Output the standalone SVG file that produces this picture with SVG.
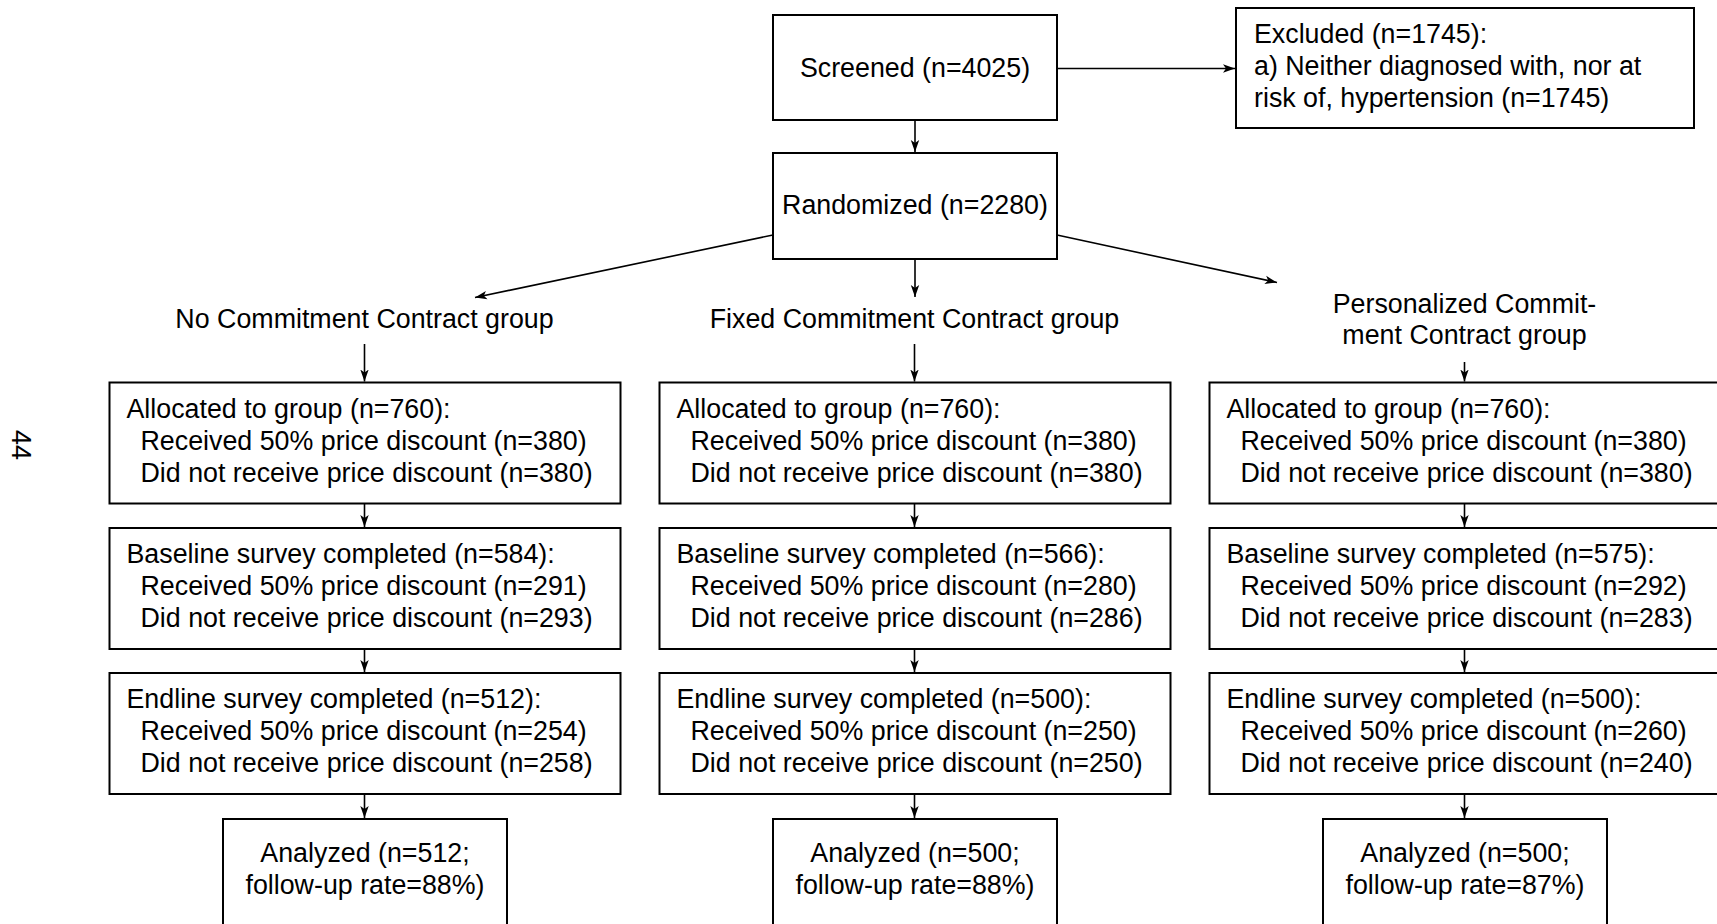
<svg xmlns="http://www.w3.org/2000/svg" width="1717" height="924" viewBox="0 0 1717 924">
<style>
  text { font-family: "Liberation Sans", Arial, Helvetica, sans-serif; font-size: 26.8px; fill: #000; }
  .c { text-anchor: middle; }
  .box { fill: #fff; stroke: #000; stroke-width: 2; }
  .conn line { stroke: #000; stroke-width: 1.6; fill: none; marker-end: url(#ah); }
</style>
<defs>
  <marker id="ah" markerWidth="14" markerHeight="10" refX="12" refY="5" orient="auto" markerUnits="userSpaceOnUse" viewBox="0 0 14 10">
    <path d="M0,0.8 L12,5 L0,9.2 L3,5 Z" fill="#000"/>
  </marker>
</defs>
<rect width="1717" height="924" fill="#fff"/>

<text transform="translate(12,430) rotate(90)">44</text>

<g id="screened">
  <rect class="box" x="773" y="15" width="284" height="105"/>
  <text class="c" x="915" y="77">Screened (n=4025)</text>
</g>
<g id="excluded">
  <rect class="box" x="1236" y="8" width="458" height="120"/>
  <text x="1254" y="43">Excluded (n=1745):</text>
  <text x="1254" y="75">a) Neither diagnosed with, nor at</text>
  <text x="1254" y="106.6">risk of, hypertension (n=1745)</text>
</g>
<g id="randomized">
  <rect class="box" x="773" y="153" width="284" height="106"/>
  <text class="c" x="915" y="214">Randomized (n=2280)</text>
</g>

<g id="label-no">
  <text class="c" x="364.5" y="328">No Commitment Contract group</text>
</g>
<g id="label-fixed">
  <text class="c" x="914.5" y="328">Fixed Commitment Contract group</text>
</g>
<g id="label-personalized">
  <text class="c" x="1464.5" y="313">Personalized Commit-</text>
  <text class="c" x="1464.5" y="344">ment Contract group</text>
</g>

<!-- Left column -->
<g id="no-allocated">
  <rect class="box" x="109.5" y="382.5" width="511" height="121"/>
  <text x="126.5" y="417.5">Allocated to group (n=760):</text>
  <text x="140.5" y="449.5">Received 50% price discount (n=380)</text>
  <text x="140.5" y="481.5">Did not receive price discount (n=380)</text>
</g>
<g id="no-baseline">
  <rect class="box" x="109.5" y="528" width="511" height="121"/>
  <text x="126.5" y="563">Baseline survey completed (n=584):</text>
  <text x="140.5" y="595">Received 50% price discount (n=291)</text>
  <text x="140.5" y="627">Did not receive price discount (n=293)</text>
</g>
<g id="no-endline">
  <rect class="box" x="109.5" y="673" width="511" height="121"/>
  <text x="126.5" y="708.3">Endline survey completed (n=512):</text>
  <text x="140.5" y="740.3">Received 50% price discount (n=254)</text>
  <text x="140.5" y="772.3">Did not receive price discount (n=258)</text>
</g>
<g id="no-analyzed">
  <rect class="box" x="223" y="819" width="284" height="110"/>
  <text class="c" x="365" y="862.3">Analyzed (n=512;</text>
  <text class="c" x="365" y="894">follow-up rate=88%)</text>
</g>

<!-- Middle column -->
<g id="fixed-allocated">
  <rect class="box" x="659.5" y="382.5" width="511" height="121"/>
  <text x="676.5" y="417.5">Allocated to group (n=760):</text>
  <text x="690.5" y="449.5">Received 50% price discount (n=380)</text>
  <text x="690.5" y="481.5">Did not receive price discount (n=380)</text>
</g>
<g id="fixed-baseline">
  <rect class="box" x="659.5" y="528" width="511" height="121"/>
  <text x="676.5" y="563">Baseline survey completed (n=566):</text>
  <text x="690.5" y="595">Received 50% price discount (n=280)</text>
  <text x="690.5" y="627">Did not receive price discount (n=286)</text>
</g>
<g id="fixed-endline">
  <rect class="box" x="659.5" y="673" width="511" height="121"/>
  <text x="676.5" y="708.3">Endline survey completed (n=500):</text>
  <text x="690.5" y="740.3">Received 50% price discount (n=250)</text>
  <text x="690.5" y="772.3">Did not receive price discount (n=250)</text>
</g>
<g id="fixed-analyzed">
  <rect class="box" x="773" y="819" width="284" height="110"/>
  <text class="c" x="915" y="862.3">Analyzed (n=500;</text>
  <text class="c" x="915" y="894">follow-up rate=88%)</text>
</g>

<!-- Right column -->
<g id="pers-allocated">
  <rect class="box" x="1209.5" y="382.5" width="511" height="121"/>
  <text x="1226.5" y="417.5">Allocated to group (n=760):</text>
  <text x="1240.5" y="449.5">Received 50% price discount (n=380)</text>
  <text x="1240.5" y="481.5">Did not receive price discount (n=380)</text>
</g>
<g id="pers-baseline">
  <rect class="box" x="1209.5" y="528" width="511" height="121"/>
  <text x="1226.5" y="563">Baseline survey completed (n=575):</text>
  <text x="1240.5" y="595">Received 50% price discount (n=292)</text>
  <text x="1240.5" y="627">Did not receive price discount (n=283)</text>
</g>
<g id="pers-endline">
  <rect class="box" x="1209.5" y="673" width="511" height="121"/>
  <text x="1226.5" y="708.3">Endline survey completed (n=500):</text>
  <text x="1240.5" y="740.3">Received 50% price discount (n=260)</text>
  <text x="1240.5" y="772.3">Did not receive price discount (n=240)</text>
</g>
<g id="pers-analyzed">
  <rect class="box" x="1323" y="819" width="284" height="110"/>
  <text class="c" x="1465" y="862.3">Analyzed (n=500;</text>
  <text class="c" x="1465" y="894">follow-up rate=87%)</text>
</g>

<g id="connectors" class="conn">
  <line x1="1058" y1="68.5" x2="1235" y2="68.5"/>
  <line x1="915" y1="120" x2="915" y2="152"/>
  <line x1="773" y1="235" x2="475" y2="297.5"/>
  <line x1="915" y1="259" x2="915" y2="297"/>
  <line x1="1057" y1="235" x2="1277" y2="282.5"/>
  <line x1="364.5" y1="344" x2="364.5" y2="381.5"/>
  <line x1="914.5" y1="344" x2="914.5" y2="381.5"/>
  <line x1="1464.5" y1="362" x2="1464.5" y2="381.5"/>
  <line x1="364.5" y1="503.5" x2="364.5" y2="527"/>
  <line x1="914.5" y1="503.5" x2="914.5" y2="527"/>
  <line x1="1464.5" y1="503.5" x2="1464.5" y2="527"/>
  <line x1="364.5" y1="649" x2="364.5" y2="672"/>
  <line x1="914.5" y1="649" x2="914.5" y2="672"/>
  <line x1="1464.5" y1="649" x2="1464.5" y2="672"/>
  <line x1="364.5" y1="794" x2="364.5" y2="818"/>
  <line x1="914.5" y1="794" x2="914.5" y2="818"/>
  <line x1="1464.5" y1="794" x2="1464.5" y2="818"/>
</g>
</svg>
